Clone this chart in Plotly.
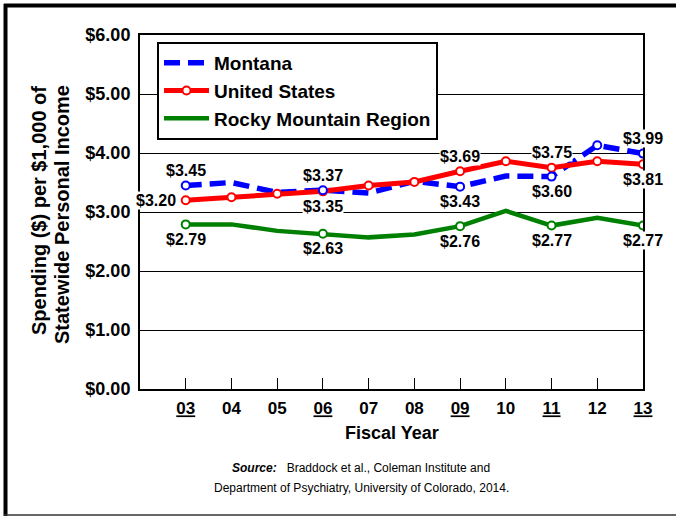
import plotly.graph_objects as go

# ---------------- data ----------------
fiscal_years = [2003, 2004, 2005, 2006, 2007, 2008, 2009, 2010, 2011, 2012, 2013]
year_labels = ["03", "04", "05", "06", "07", "08", "09", "10", "11", "12", "13"]
underlined_years = ["03", "06", "09", "11", "13"]

montana = [3.45, 3.50, 3.33, 3.37, 3.32, 3.52, 3.43, 3.61, 3.60, 4.13, 3.99]
united_states = [3.20, 3.25, 3.31, 3.35, 3.45, 3.51, 3.69, 3.86, 3.75, 3.86, 3.81]
rocky_mountain = [2.79, 2.79, 2.68, 2.63, 2.57, 2.62, 2.76, 3.02, 2.77, 2.90, 2.77]

montana_marker_years = ["03", "06", "09", "11", "12", "13"]
rocky_marker_years = ["03", "06", "09", "11", "13"]

# value labels: (series, year label, placement)
value_labels = [
    ("Montana", "03", "above"), ("Montana", "06", "above"), ("Montana", "09", "below"),
    ("Montana", "11", "below"), ("Montana", "13", "above"),
    ("United States", "03", "left"), ("United States", "06", "below"),
    ("United States", "09", "above"), ("United States", "11", "above"),
    ("United States", "13", "below"),
    ("Rocky Mountain Region", "03", "below"), ("Rocky Mountain Region", "06", "below"),
    ("Rocky Mountain Region", "09", "below"), ("Rocky Mountain Region", "11", "below"),
    ("Rocky Mountain Region", "13", "below"),
]

series = {
    "Montana": montana,
    "United States": united_states,
    "Rocky Mountain Region": rocky_mountain,
}

# ---------------- layout geometry ----------------
W, H = 676, 516
L, R, T, B = 140, 643, 35, 389
FONT = "Arial, Liberation Sans, sans-serif"


def px_x(px):
    return (px - L) / (R - L)


def px_y(py):
    return (B - py) / (B - T)


def year_of(lbl):
    return fiscal_years[year_labels.index(lbl)]


def subset(values, labels):
    idx = [year_labels.index(l) for l in labels]
    return [fiscal_years[i] for i in idx], [values[i] for i in idx]


BLUE, RED, GREEN = "#0000FF", "#FF0000", "#008000"

fig = go.Figure()

fig.add_trace(go.Scatter(
    x=fiscal_years, y=montana, name="Montana", mode="lines",
    line=dict(color=BLUE, width=5.5, dash="16px,8px"),
))
fig.add_trace(go.Scatter(
    x=fiscal_years, y=united_states, name="United States", mode="lines+markers",
    line=dict(color=RED, width=5),
    marker=dict(size=8, color="white", line=dict(color=RED, width=2)),
))
fig.add_trace(go.Scatter(
    x=fiscal_years, y=rocky_mountain, name="Rocky Mountain Region", mode="lines",
    line=dict(color=GREEN, width=4.5),
))

mx, my = subset(montana, montana_marker_years)
fig.add_trace(go.Scatter(
    x=mx, y=my, mode="markers", showlegend=False, hoverinfo="skip",
    marker=dict(size=8, color="white", line=dict(color=BLUE, width=2)),
))
gx, gy = subset(rocky_mountain, rocky_marker_years)
fig.add_trace(go.Scatter(
    x=gx, y=gy, mode="markers", showlegend=False, hoverinfo="skip",
    marker=dict(size=8, color="white", line=dict(color=GREEN, width=2)),
))

annotations = []
for name, lbl, place in value_labels:
    v = series[name][year_labels.index(lbl)]
    a = dict(x=year_of(lbl), y=v, xref="x", yref="y", text="$%.2f" % v,
             showarrow=False, bgcolor="white", borderpad=0,
             font=dict(family=FONT, size=16, color="black", weight="bold"))
    if place == "above":
        a.update(yshift=15, yanchor="middle")
    elif place == "below":
        a.update(yshift=-15, yanchor="middle")
    else:
        a.update(xanchor="right", xshift=-9, yanchor="middle")
    annotations.append(a)

# y-axis title (two lines)
annotations.append(dict(x=px_x(39), y=px_y(211), xref="paper", yref="paper",
                        text="Spending ($) per $1,000 of", textangle=-90, showarrow=False,
                        xanchor="center", yanchor="middle",
                        font=dict(family=FONT, size=20, color="black", weight="bold")))
annotations.append(dict(x=px_x(62), y=px_y(215), xref="paper", yref="paper",
                        text="Statewide Personal Income", textangle=-90, showarrow=False,
                        xanchor="center", yanchor="middle",
                        font=dict(family=FONT, size=20, color="black", weight="bold")))
# x-axis title
annotations.append(dict(x=0.5, y=px_y(433), xref="paper", yref="paper",
                        text="Fiscal Year", showarrow=False,
                        xanchor="center", yanchor="middle",
                        font=dict(family=FONT, size=18, color="black", weight="bold")))
# source
annotations.append(dict(x=px_x(361), y=px_y(468), xref="paper", yref="paper",
                        text="<b><i>Source:</i></b>\u00a0\u00a0\u00a0Braddock et al., Coleman Institute and",
                        showarrow=False, xanchor="center", yanchor="middle",
                        font=dict(family=FONT, size=12, color="black")))
annotations.append(dict(x=px_x(361), y=px_y(488), xref="paper", yref="paper",
                        text="Department of Psychiatry, University of Colorado, 2014.",
                        showarrow=False, xanchor="center", yanchor="middle",
                        font=dict(family=FONT, size=12, color="black")))

tick_text = [("<u>%s</u>" % t) if t in underlined_years else t for t in year_labels]

shapes = [
    # outer frame
    dict(type="line", xref="paper", yref="paper", x0=px_x(5.5), x1=px_x(5.5),
         y0=px_y(4), y1=px_y(516), line=dict(color="black", width=4)),
    dict(type="line", xref="paper", yref="paper", x0=px_x(4), x1=px_x(676),
         y0=px_y(5.5), y1=px_y(5.5), line=dict(color="black", width=4)),
    dict(type="line", xref="paper", yref="paper", x0=px_x(4), x1=px_x(676),
         y0=px_y(515), y1=px_y(515), line=dict(color="#333333", width=1.5)),
]

fig.update_layout(
    width=W, height=H,
    margin=dict(l=L, r=W - R, t=T, b=H - B, pad=0),
    paper_bgcolor="white", plot_bgcolor="white",
    font=dict(family=FONT, color="black"),
    showlegend=True,
    legend=dict(x=px_x(157), y=px_y(42), xanchor="left", yanchor="top",
                bgcolor="white", bordercolor="black", borderwidth=2,
                font=dict(family=FONT, size=19, color="black", weight="bold"),
                itemwidth=45, tracegroupgap=0),
    annotations=annotations,
    shapes=shapes,
    xaxis=dict(range=[2002, 2013], tickmode="array", tickvals=fiscal_years, ticktext=tick_text,
               ticks="inside", ticklen=11, tickcolor="black", tickwidth=1,
               showgrid=False, zeroline=False,
               showline=True, linecolor="black", linewidth=2, mirror=True,
               tickfont=dict(family=FONT, size=17, color="black", weight="bold"),
               ticklabelstandoff=3),
    yaxis=dict(range=[0, 6], tickmode="linear", tick0=0, dtick=1,
               tickprefix="$", tickformat=".2f",
               showgrid=True, gridcolor="black", gridwidth=1, zeroline=False,
               showline=True, linecolor="black", linewidth=2, mirror=True,
               ticks="", tickfont=dict(family=FONT, size=18, color="black", weight="bold"),
               ticklabelstandoff=4),
)

fig.write_html("out.html", config={"displayModeBar": False},
               post_script="document.body.style.margin='0';document.body.style.overflow='hidden';")
